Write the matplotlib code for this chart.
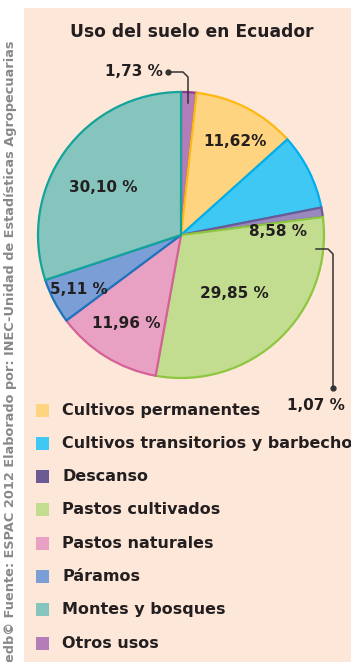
import matplotlib
matplotlib.use("Agg")
import matplotlib.pyplot as plt
from matplotlib.patches import Rectangle
from matplotlib.lines import Line2D

# Land use shares, clockwise from 12 o'clock
categories = ["Otros usos", "Cultivos permanentes", "Cultivos transitorios y barbecho",
              "Descanso", "Pastos cultivados", "Pastos naturales", "Páramos",
              "Montes y bosques"]
values = [1.73, 11.62, 8.58, 1.07, 29.85, 11.96, 5.11, 30.10]
labels = ["1,73 %", "11,62%", "8,58 %", "1,07 %", "29,85 %", "11,96 %", "5,11 %", "30,10 %"]

fills = ["#B27DB8", "#FFD480", "#40C8F4", "#9A89C0", "#C2DD8F", "#E8A1C2", "#7B9ED6", "#86C5BD"]
edges = ["#8E3A8E", "#FDB913", "#00AEEF", "#6B5A94", "#8DC63F", "#D5609A", "#1C75BC", "#14A39A"]

# Legend order and swatch colours
legend_items = ["Cultivos permanentes", "Cultivos transitorios y barbecho", "Descanso",
                "Pastos cultivados", "Pastos naturales", "Páramos", "Montes y bosques",
                "Otros usos"]
legend_colors = ["#FFD480", "#40C8F4", "#6B5A94", "#C2DD8F", "#E8A1C2", "#7B9ED6",
                 "#86C5BD", "#B27DB8"]

title = "Uso del suelo en Ecuador"
source = "edb© Fuente: ESPAC 2012 Elaborado por: INEC-Unidad de Estadísticas Agropecuarias"

W, H = 351, 662
fig = plt.figure(figsize=(W / 100, H / 100), dpi=100)
fig.patch.set_facecolor("white")

FONT = ["DejaVu Sans"]
INK = "#231F20"


def fx(x):
    return x / W


def fy(y):
    return 1 - y / H


# peach panel
fig.patches.append(Rectangle((fx(24), 0), 1 - fx(24), fy(8), transform=fig.transFigure,
                             facecolor="#FDE7D8", edgecolor="none", zorder=-5))

# pie axes
cx, cy, r = 181, 235, 143
ax = fig.add_axes([fx(cx - r), fy(cy + r), 2 * r / W, 2 * r / H], zorder=2)
wedges, _ = ax.pie(values, startangle=90, counterclock=False, colors=fills,
                   wedgeprops=dict(linewidth=1.6), radius=1)
for w, ec in zip(wedges, edges):
    w.set_edgecolor(ec)
    w.set_clip_on(False)
    w.set_joinstyle("miter")
ax.set_xlim(-1, 1)
ax.set_ylim(-1, 1)
ax.axis("off")


def to_data(px, py):
    return (px - cx) / r, (cy - py) / r


# value labels
label_pos = {
    "1,73 %": (134, 72), "11,62%": (235, 141), "8,58 %": (278, 232),
    "1,07 %": (316, 406), "29,85 %": (234, 293), "11,96 %": (126, 323),
    "5,11 %": (79, 290), "30,10 %": (103, 188),
}
for lab in labels:
    x, y = to_data(*label_pos[lab])
    ax.text(x, y, lab, ha="center", va="center", fontsize=11, fontweight="bold",
            family=FONT, color=INK, clip_on=False)

# leader lines for the thin slices
lead1 = [to_data(168, 72), to_data(183, 72), to_data(188, 77), to_data(188, 103)]
ax.add_line(Line2D([p[0] for p in lead1], [p[1] for p in lead1], color="#333333",
                   lw=1.1, clip_on=False))
ax.plot(*lead1[0], "o", ms=3.5, color="#333333", clip_on=False)
lead2 = [to_data(316, 249), to_data(328, 249), to_data(333, 254), to_data(333, 388)]
ax.add_line(Line2D([p[0] for p in lead2], [p[1] for p in lead2], color="#333333",
                   lw=1.1, clip_on=False))
ax.plot(*lead2[-1], "o", ms=3.5, color="#333333", clip_on=False)

# title
fig.text(fx(192), fy(32), title, ha="center", va="center", fontsize=12.3,
         fontweight="bold", family=FONT, color=INK)

# legend
y0, dy = 410, 33.3
for i, (name, col) in enumerate(zip(legend_items, legend_colors)):
    y = y0 + i * dy
    fig.patches.append(Rectangle((fx(36), fy(y + 6.5)), 13 / W, 13 / H,
                                 transform=fig.transFigure, facecolor=col,
                                 edgecolor="none"))
    fig.text(fx(62), fy(y), name, ha="left", va="center", fontsize=11.5,
             fontweight="bold", family=FONT, color=INK)

# source note along the left margin
fig.text(fx(11), fy(40), source, rotation=90, ha="center", va="top", fontsize=9.3,
         fontweight="bold", family=FONT, color="#888888")

fig.savefig("out.png", dpi=100, facecolor=fig.get_facecolor())
